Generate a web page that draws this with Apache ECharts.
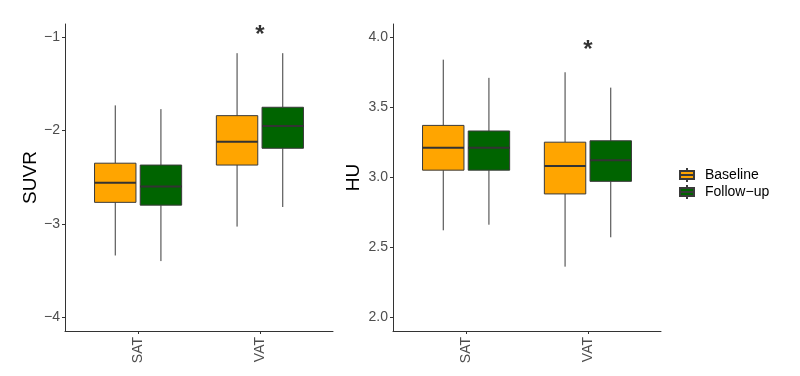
<!DOCTYPE html>
<html>
<head>
<meta charset="utf-8">
<script src="https://cdn.jsdelivr.net/npm/echarts@6/dist/echarts.min.js"></script>
<style>
    html, body { margin: 0; padding: 0; background: #fff; }
    #chart { width: 800px; height: 376px; }
</style>
</head>
<body>
<div id="chart"></div>
<script>
// categories on the x axis
var categories = ['SAT', 'VAT'];
var seriesNames = ['Baseline', 'Follow\u2212up'];

// box stats per category: [lower whisker, Q1, median, Q3, upper whisker]
var suvrBaseline = [[-3.34, -2.77, -2.56, -2.35, -1.73], [-3.03, -2.37, -2.12, -1.84, -1.17]];
var suvrFollowup = [[-3.40, -2.80, -2.60, -2.37, -1.77], [-2.82, -2.19, -1.95, -1.75, -1.17]];
var huBaseline = [[2.62, 3.05, 3.21, 3.37, 3.84], [2.36, 2.88, 3.08, 3.25, 3.75]];
var huFollowup = [[2.66, 3.05, 3.21, 3.33, 3.71], [2.57, 2.97, 3.12, 3.26, 3.64]];

// significance marks (category index, value)
var suvrStar = [[2, -0.95]];
var huStar = [[2, 3.93]];

// tick labels
var suvrTicks = [-4, -3, -2, -1];
var huTicks = [2.0, 2.5, 3.0, 3.5, 4.0];

var colors = ['#FFA500', '#006400'];
var boxWidth = 0.34;
var dodge = 0.1875;
var fontFamily = 'Liberation Sans';

// turn stats into [x, lo, q1, med, q3, hi]
function toData(stats) {
    return stats.map(function (s, i) { return [i + 1].concat(s); });
}

function boxRenderer(offset, color) {
    return function (params, api) {
        var x = api.value(0) + offset;
        var lo = api.coord([x, api.value(1)]);
        var q1 = api.coord([x, api.value(2)]);
        var md = api.coord([x, api.value(3)]);
        var q3 = api.coord([x, api.value(4)]);
        var hi = api.coord([x, api.value(5)]);
        var w = api.size([boxWidth, 0])[0];
        var lineStyle = { stroke: '#3a3a3a', lineWidth: 1 };
        return {
            type: 'group',
            children: [
                { type: 'line', shape: { x1: lo[0], y1: lo[1], x2: q1[0], y2: q1[1] }, style: lineStyle },
                { type: 'line', shape: { x1: q3[0], y1: q3[1], x2: hi[0], y2: hi[1] }, style: lineStyle },
                {
                    type: 'rect',
                    shape: { x: q3[0] - w / 2, y: q3[1], width: w, height: q1[1] - q3[1] },
                    style: { fill: color, stroke: '#3a3a3a', lineWidth: 1 }
                },
                {
                    type: 'line',
                    shape: { x1: md[0] - w / 2, y1: md[1], x2: md[0] + w / 2, y2: md[1] },
                    style: { stroke: '#333', lineWidth: 2 }
                }
            ]
        };
    };
}

function boxSeries(name, stats, idx, color, offset) {
    return {
        name: name,
        type: 'custom',
        xAxisIndex: idx,
        yAxisIndex: idx,
        itemStyle: { color: color, borderColor: '#3a3a3a', borderWidth: 1 },
        renderItem: boxRenderer(offset, color),
        encode: { x: 0, y: [1, 2, 3, 4, 5] },
        data: toData(stats)
    };
}

function starSeries(data, idx) {
    return {
        type: 'scatter',
        xAxisIndex: idx,
        yAxisIndex: idx,
        symbolSize: 0,
        silent: true,
        label: {
            show: true,
            position: 'inside',
            formatter: '*',
            color: '#000',
            fontSize: 24,
            fontWeight: 'bold',
            fontFamily: fontFamily,
            offset: [0, 3]
        },
        data: data
    };
}

function xAxis(idx) {
    return {
        type: 'value',
        gridIndex: idx,
        min: 0.4,
        max: 2.6,
        splitLine: { show: false },
        axisLine: { show: true, onZero: false, lineStyle: { color: '#333', width: 1 } },
        axisTick: { show: true, customValues: [1, 2], length: 3, lineStyle: { color: '#333' } },
        axisLabel: {
            customValues: [1, 2],
            rotate: 90,
            margin: 6,
            color: '#4d4d4d',
            fontSize: 14,
            fontFamily: fontFamily,
            formatter: function (v) { return categories[Math.round(v) - 1]; }
        }
    };
}

function yAxis(idx, name, min, max, ticks, fmt, gap) {
    return {
        type: 'value',
        gridIndex: idx,
        min: min,
        max: max,
        name: name,
        nameLocation: 'middle',
        nameGap: gap,
        nameTextStyle: { color: '#000', fontSize: 19, fontFamily: fontFamily },
        splitLine: { show: false },
        axisLine: { show: true, lineStyle: { color: '#333', width: 1 } },
        axisTick: { show: true, customValues: ticks, length: 3, lineStyle: { color: '#333' } },
        axisLabel: {
            customValues: ticks,
            margin: 5,
            color: '#4d4d4d',
            fontSize: 14,
            fontFamily: fontFamily,
            formatter: fmt
        }
    };
}

var chart = echarts.init(document.getElementById('chart'), null, { renderer: 'canvas' });

chart.setOption({
    animation: false,
    backgroundColor: '#fff',
    grid: [
        { left: 65, top: 24, width: 268, height: 307 },
        { left: 393, top: 24, width: 268, height: 307 }
    ],
    xAxis: [xAxis(0), xAxis(1)],
    yAxis: [
        yAxis(0, 'SUVR', -4.15, -0.857, suvrTicks, function (v) { return String(Math.round(v)).replace('-', '\u2212'); }, 22),
        yAxis(1, 'HU', 1.9, 4.095, huTicks, function (v) { return v.toFixed(1); }, 30)
    ],
    legend: {
        orient: 'vertical',
        left: 674,
        top: 162,
        itemWidth: 14,
        itemHeight: 14,
        itemGap: 1,
        icon: 'path://M7,0 L7,3 M0,3 L14,3 L14,11 L0,11 Z M0,7 L14,7 M7,11 L7,14',
        textStyle: { color: '#000', fontSize: 14, fontFamily: fontFamily, padding: [0, 0, 0, 6] },
        data: seriesNames
    },
    series: [
        boxSeries(seriesNames[0], suvrBaseline, 0, colors[0], -dodge),
        boxSeries(seriesNames[1], suvrFollowup, 0, colors[1], dodge),
        boxSeries(seriesNames[0], huBaseline, 1, colors[0], -dodge),
        boxSeries(seriesNames[1], huFollowup, 1, colors[1], dodge),
        starSeries(suvrStar, 0),
        starSeries(huStar, 1)
    ]
});
</script>
</body>
</html>
